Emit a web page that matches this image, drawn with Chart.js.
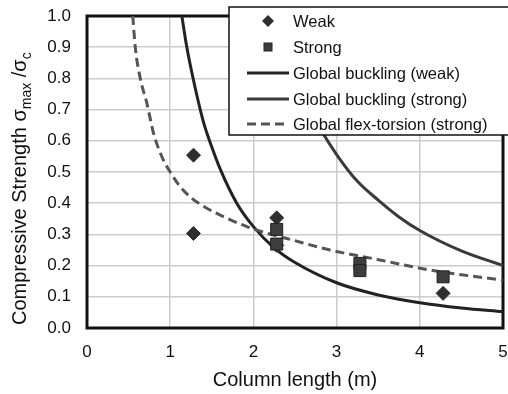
<!DOCTYPE html>
<html>
<head>
<meta charset="utf-8">
<script src="https://cdn.jsdelivr.net/npm/chart.js@4/dist/chart.umd.min.js"></script>
<style>
  html, body { margin: 0; padding: 0; background: #fff; }
  #wrap { width: 508px; height: 394px; }
</style>
</head>
<body>
<div id="wrap"><canvas id="chart"></canvas></div>
<script>
// test results (column length in m, sigma_max / sigma_c)
const weakLength = [1.28, 1.28, 2.28, 2.28, 4.28];
const weakStrength = [0.554, 0.303, 0.353, 0.265, 0.111];
const strongLength = [2.28, 2.28, 3.28, 3.28, 4.28];
const strongStrength = [0.316, 0.269, 0.207, 0.184, 0.164];

// prediction curves
const bucklingWeakLength = [1.14, 1.2, 1.3, 1.4, 1.5, 1.6, 1.8, 2.0, 2.25, 2.5, 3.0, 3.5, 4.0, 4.5, 5.0];
const bucklingWeakStrength = [1.0, 0.90, 0.77, 0.66, 0.58, 0.51, 0.40, 0.325, 0.257, 0.21, 0.145, 0.106, 0.081, 0.064, 0.052];
const bucklingStrongLength = [2.24, 2.4, 2.6, 2.8, 3.0, 3.25, 3.5, 3.75, 4.0, 4.5, 5.0];
const bucklingStrongStrength = [1.0, 0.87, 0.74, 0.64, 0.556, 0.47, 0.41, 0.356, 0.3125, 0.247, 0.2];
const flexTorsionLength = [0.55, 0.58, 0.64, 0.72, 0.80, 0.90, 1.0, 1.12, 1.26, 1.44, 1.68, 1.92, 2.16, 2.4, 2.92, 3.52, 4.12, 5.0];
const flexTorsionStrength = [1.0, 0.9, 0.8, 0.72, 0.624, 0.549, 0.50, 0.453, 0.416, 0.384, 0.352, 0.325, 0.304, 0.287, 0.25, 0.218, 0.186, 0.153];

const FONT = '"Liberation Sans", Arial, sans-serif';

function toPoints(xs, ys) {
    return xs.map((x, i) => ({ x: x, y: ys[i] }));
}

// black frame around the plot area
const framePlugin = {
    id: 'frame',
    beforeDatasetsDraw(chart) {
        const { ctx, chartArea: a } = chart;
        ctx.save();
        ctx.strokeStyle = '#111';
        ctx.lineWidth = 3;
        ctx.strokeRect(a.left, a.top, a.right - a.left, a.bottom - a.top);
        ctx.restore();
    }
};

// y axis title with subscripts
const yTitlePlugin = {
    id: 'yTitle',
    afterDraw(chart) {
        const ctx = chart.ctx;
        ctx.save();
        ctx.translate(26, 325);
        ctx.rotate(-Math.PI / 2);
        ctx.fillStyle = '#111';
        ctx.textBaseline = 'alphabetic';
        ctx.textAlign = 'left';
        const big = '20px ' + FONT;
        const small = '14px ' + FONT;
        let x = 0;
        const parts = [
            ['Compressive Strength \u03c3', big, 0],
            ['max', small, 5],
            [' /\u03c3', big, 0],
            ['c', small, 5]
        ];
        parts.forEach(p => {
            ctx.font = p[1];
            ctx.fillText(p[0], x, p[2]);
            x += ctx.measureText(p[0]).width;
        });
        ctx.restore();
    }
};

// legend box drawn over the top right of the plot
const legendPlugin = {
    id: 'boxLegend',
    afterDraw(chart) {
        const ctx = chart.ctx;
        const left = 229, top = 7, bottom = 135;
        ctx.save();
        ctx.fillStyle = '#fff';
        ctx.fillRect(left, top, 290, bottom - top);
        ctx.strokeStyle = '#111';
        ctx.lineWidth = 1.5;
        ctx.strokeRect(left, top, 290, bottom - top);
        const rows = [21, 47, 73, 99, 124];
        ctx.font = '16.5px ' + FONT;
        ctx.textBaseline = 'middle';
        chart.data.datasets.forEach((ds, i) => {
            const y = rows[i];
            if (ds.showLine) {
                ctx.strokeStyle = ds.borderColor;
                ctx.lineWidth = ds.borderWidth;
                ctx.setLineDash(ds.borderDash || []);
                ctx.beginPath();
                ctx.moveTo(247, y);
                ctx.lineTo(289, y);
                ctx.stroke();
                ctx.setLineDash([]);
            } else {
                ctx.fillStyle = ds.backgroundColor;
                ctx.strokeStyle = ds.borderColor;
                ctx.lineWidth = 1;
                if (ds.pointStyle === 'rectRot') {
                    ctx.beginPath();
                    ctx.moveTo(268, y - 6);
                    ctx.lineTo(274, y);
                    ctx.lineTo(268, y + 6);
                    ctx.lineTo(262, y);
                    ctx.closePath();
                    ctx.fill();
                } else {
                    ctx.fillRect(264, y - 4, 8, 8);
                    ctx.strokeRect(264, y - 4, 8, 8);
                }
            }
            ctx.fillStyle = '#111';
            ctx.fillText(ds.label, 293, y + 1);
        });
        ctx.restore();
    }
};

new Chart(document.getElementById('chart'), {
    type: 'scatter',
    data: {
        datasets: [
            {
                label: 'Weak',
                data: toPoints(weakLength, weakStrength),
                pointStyle: 'rectRot',
                pointRadius: 7,
                backgroundColor: '#2e2e2e',
                borderColor: '#2e2e2e',
                borderWidth: 1,
                showLine: false,
                order: 1
            },
            {
                label: 'Strong',
                data: toPoints(strongLength, strongStrength),
                pointStyle: 'rect',
                pointRadius: 8.5,
                backgroundColor: '#3d3d3d',
                borderColor: '#222',
                borderWidth: 1,
                showLine: false,
                order: 0
            },
            {
                label: 'Global buckling (weak)',
                data: toPoints(bucklingWeakLength, bucklingWeakStrength),
                showLine: true,
                pointRadius: 0,
                borderColor: '#222',
                borderWidth: 3,
                cubicInterpolationMode: 'monotone',
                order: 3
            },
            {
                label: 'Global buckling (strong)',
                data: toPoints(bucklingStrongLength, bucklingStrongStrength),
                showLine: true,
                pointRadius: 0,
                borderColor: '#3a3a3a',
                borderWidth: 3,
                cubicInterpolationMode: 'monotone',
                order: 3
            },
            {
                label: 'Global flex-torsion (strong)',
                data: toPoints(flexTorsionLength, flexTorsionStrength),
                showLine: true,
                pointRadius: 0,
                borderColor: '#555',
                borderWidth: 3,
                borderDash: [9, 5],
                cubicInterpolationMode: 'monotone',
                order: 2
            }
        ]
    },
    options: {
        responsive: true,
        maintainAspectRatio: false,
        animation: false,
        layout: { autoPadding: false, padding: { left: 0, right: 5, top: 16, bottom: 0 } },
        plugins: {
            legend: { display: false },
            tooltip: { enabled: false }
        },
        scales: {
            x: {
                type: 'linear',
                min: 0,
                max: 5,
                afterFit: scale => {
                    scale.height = 66;
                    scale.paddingLeft = 0;
                    scale.paddingRight = 0;
                },
                ticks: {
                    stepSize: 1,
                    padding: 14,
                    color: '#111',
                    font: { family: FONT, size: 17 }
                },
                grid: { color: '#cccccc', lineWidth: 1.5, drawTicks: false },
                border: { display: false },
                title: {
                    display: true,
                    text: 'Column length (m)',
                    color: '#111',
                    font: { family: FONT, size: 20 },
                    padding: { top: 0, bottom: 2 }
                }
            },
            y: {
                min: 0,
                max: 1,
                afterFit: scale => {
                    scale.width = 87;
                    scale.paddingTop = 0;
                    scale.paddingBottom = 0;
                },
                ticks: {
                    stepSize: 0.1,
                    padding: 16,
                    color: '#111',
                    font: { family: FONT, size: 17 },
                    callback: v => v.toFixed(1)
                },
                grid: { color: '#cccccc', lineWidth: 1.5, drawTicks: false },
                border: { display: false }
            }
        }
    },
    plugins: [framePlugin, yTitlePlugin, legendPlugin]
});
</script>
</body>
</html>
